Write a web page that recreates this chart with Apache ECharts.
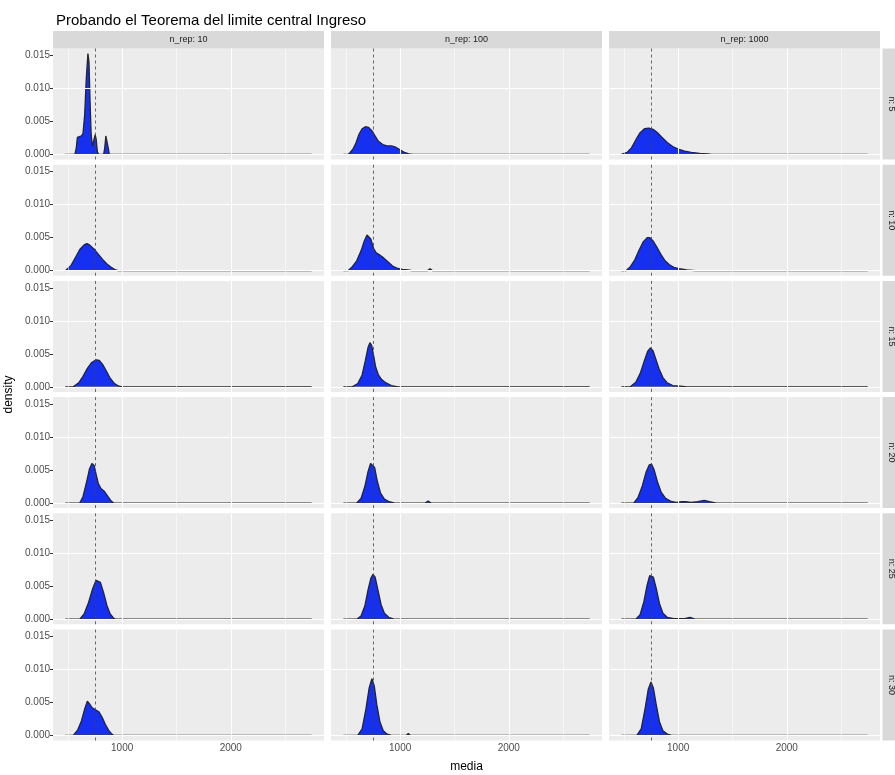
<!DOCTYPE html>
<html>
<head>
<meta charset="utf-8">
<script src="https://cdn.jsdelivr.net/npm/echarts@6/dist/echarts.min.js"></script>
<style>
html, body { margin: 0; padding: 0; background: #ffffff; }
#chart { width: 895px; height: 775px; }
</style>
</head>
<body>
<div id="chart"></div>
<script>
// Facet levels
const repLevels = [10, 100, 1000];
const nLevels = [5, 10, 15, 20, 25, 30];

// Observed range of the sample means (densities are evaluated over it)
const mediaRange = [477, 2745];
// Population mean of the income
const meanIngreso = 755;

const xTickValues = [1000, 2000];
const xMinorValues = [500, 1500, 2500];
const yTickValues = [0, 0.005, 0.010, 0.015];
const yMinorValues = [0.0025, 0.0075, 0.0125];

// Kernel density of the sample means, [media, density]
const dens_n5_rep10 = [[565,0],[578,0.0010],[588,0.0026],[605,0.0029],[625,0.0028],[640,0.0032],[655,0.0060],[670,0.0115],[685,0.0153],[695,0.0140],[705,0.0080],[715,0.0030],[727,0.0012],[740,0.0022],[752,0.0030],[762,0.0022],[772,0.0004],[785,0],[830,0],[840,0.0010],[850,0.0028],[862,0.0029],[872,0.0010],[882,0]];
const dens_n5_rep100 = [[520,0],[540,0.0003],[565,0.0008],[590,0.0016],[620,0.0030],[650,0.0039],[680,0.0042],[710,0.0041],[740,0.0036],[770,0.0028],[800,0.0020],[840,0.0015],[880,0.0013],[920,0.0013],[960,0.0011],[1000,0.0007],[1040,0.0003],[1080,0.0001],[1120,0]];
const dens_n5_rep1000 = [[490,0],[530,0.0003],[570,0.0010],[610,0.0022],[650,0.0033],[690,0.0039],[730,0.0040],[770,0.0038],[810,0.0033],[850,0.0026],[900,0.0018],[950,0.0012],[1000,0.0008],[1060,0.0005],[1120,0.0003],[1200,0.00015],[1300,0.00005],[1400,0]];

const dens_n10_rep10 = [[495,0],[530,0.0008],[570,0.0020],[610,0.0032],[650,0.0039],[675,0.0041],[700,0.0039],[740,0.0033],[780,0.0025],[820,0.0017],[860,0.0010],[900,0.0005],[940,0.0001],[965,0]];
const dens_n10_rep100 = [[520,0],[560,0.0006],[600,0.0015],[640,0.0030],[670,0.0045],[695,0.0054],[712,0.0055],[730,0.0048],[755,0.0034],[780,0.0027],[810,0.0024],[850,0.0019],[890,0.0013],[930,0.0007],[970,0.0004],[1020,0.0002],[1070,0.0001],[1110,0],[1250,0],[1275,0.0003],[1300,0]];
const dens_n10_rep1000 = [[520,0],[560,0.0006],[600,0.0016],[640,0.0031],[680,0.0044],[715,0.0050],[740,0.0050],[770,0.0045],[800,0.0037],[840,0.0025],[880,0.0015],[920,0.0009],[960,0.0005],[1010,0.0003],[1080,0.0001],[1160,0]];

const dens_n15_rep10 = [[550,0],[600,0.0006],[640,0.0016],[680,0.0028],[720,0.0037],[760,0.0041],[790,0.0040],[820,0.0034],[855,0.0024],[890,0.0013],[930,0.0005],[970,0.0001],[1000,0]];
const dens_n15_rep100 = [[560,0],[610,0.0005],[650,0.0018],[680,0.0040],[705,0.0060],[722,0.0067],[738,0.0063],[755,0.0048],[775,0.0030],[800,0.0018],[830,0.0011],[870,0.0006],[920,0.0002],[980,0]];
const dens_n15_rep1000 = [[560,0],[610,0.0007],[650,0.0020],[690,0.0040],[720,0.0054],[745,0.0059],[768,0.0055],[795,0.0042],[825,0.0027],[860,0.0014],[900,0.0006],[950,0.0002],[1020,0.0001],[1080,0]];

const dens_n20_rep10 = [[610,0],[640,0.0010],[670,0.0030],[700,0.0052],[722,0.0060],[742,0.0057],[760,0.0044],[780,0.0030],[805,0.0022],[835,0.0018],[865,0.0011],[895,0.0004],[920,0]];
const dens_n20_rep100 = [[600,0],[640,0.0007],[675,0.0025],[705,0.0048],[728,0.0060],[745,0.0062],[765,0.0054],[790,0.0033],[820,0.0015],[855,0.0006],[900,0.0002],[950,0],[1230,0],[1258,0.0003],[1285,0]];
const dens_n20_rep1000 = [[590,0],[630,0.0008],[670,0.0026],[705,0.0047],[735,0.0058],[755,0.0059],[780,0.0050],[810,0.0032],[845,0.0016],[885,0.0007],[930,0.0003],[980,0.0001],[1030,0.0002],[1070,0.0002],[1120,0.0001],[1180,0.0002],[1240,0.0004],[1290,0.0002],[1350,0]];

const dens_n25_rep10 = [[610,0],[650,0.0008],[690,0.0025],[730,0.0047],[760,0.0059],[778,0.0061],[800,0.0056],[830,0.0040],[860,0.0021],[890,0.0008],[920,0.0002],[940,0]];
const dens_n25_rep100 = [[600,0],[640,0.0005],[675,0.0020],[705,0.0045],[730,0.0062],[750,0.0068],[770,0.0064],[795,0.0045],[825,0.0022],[855,0.0009],[895,0.0003],[950,0]];
const dens_n25_rep1000 = [[610,0],[650,0.0007],[685,0.0027],[715,0.0052],[738,0.0066],[753,0.0069],[772,0.0064],[798,0.0047],[828,0.0024],[860,0.0009],[900,0.0003],[960,0.0001],[1060,0.0001],[1110,0.0003],[1160,0]];

const dens_n30_rep10 = [[550,0],[590,0.0008],[625,0.0022],[655,0.0040],[680,0.0052],[700,0.0048],[725,0.0042],[755,0.0039],[785,0.0036],[815,0.0028],[845,0.0017],[875,0.0008],[905,0.0002],[925,0]];
const dens_n30_rep100 = [[610,0],[650,0.0010],[685,0.0040],[715,0.0072],[740,0.0086],[762,0.0075],[785,0.0047],[815,0.0020],[845,0.0007],[880,0.0002],[920,0],[1055,0],[1075,0.0003],[1095,0]];
const dens_n30_rep1000 = [[620,0],[660,0.0010],[695,0.0040],[725,0.0070],[750,0.0081],[772,0.0072],[798,0.0047],[828,0.0021],[860,0.0007],[900,0.0002],[940,0]];

const densityRows = [
  [dens_n5_rep10, dens_n5_rep100, dens_n5_rep1000],
  [dens_n10_rep10, dens_n10_rep100, dens_n10_rep1000],
  [dens_n15_rep10, dens_n15_rep100, dens_n15_rep1000],
  [dens_n20_rep10, dens_n20_rep100, dens_n20_rep1000],
  [dens_n25_rep10, dens_n25_rep100, dens_n25_rep1000],
  [dens_n30_rep10, dens_n30_rep100, dens_n30_rep1000]
];

// ---- layout of the facet grid (pixels) ----
const FONT = 'Liberation Sans, Arial, sans-serif';
const panelLeft0 = 53, colPitch = 278, panelW = 271;
const panelTop0 = 48.5, rowPitch = 116.2, panelH = 111;
const stripH = 17.5, stripW = 17;

// Scales: 5% expansion on both sides, shared by all panels
const xSpan = mediaRange[1] - mediaRange[0];
const xMin = mediaRange[0] - 0.05 * xSpan;
const xMax = mediaRange[1] + 0.05 * xSpan;
let densMax = 0;
densityRows.forEach(r => r.forEach(d => d.forEach(p => { densMax = Math.max(densMax, p[1]); })));
const yMin = -0.05 * densMax;
const yMax = 1.05 * densMax;

const grids = [], xAxes = [], yAxes = [], series = [], graphics = [];

nLevels.forEach((n, r) => {
  repLevels.forEach((rep, c) => {
    const idx = grids.length;
    const left = panelLeft0 + c * colPitch;
    const top = panelTop0 + r * rowPitch;
    const isBottom = r === nLevels.length - 1;
    const isLeft = c === 0;

    grids.push({
      left: left, top: top, width: panelW, height: panelH,
      show: true, backgroundColor: '#ECECEC', borderWidth: 0
    });

    xAxes.push({
      type: 'value', gridIndex: idx, min: xMin, max: xMax,
      axisLine: { show: false },
      splitLine: { show: false },
      axisTick: { show: isBottom, customValues: xTickValues, length: 3, lineStyle: { color: '#333333', width: 1 } },
      axisLabel: {
        show: isBottom, customValues: xTickValues, margin: 3,
        fontSize: 10, color: '#4D4D4D', fontFamily: FONT,
        formatter: v => String(Math.round(v))
      }
    });

    yAxes.push({
      type: 'value', gridIndex: idx, min: yMin, max: yMax,
      axisLine: { show: false },
      splitLine: { show: false },
      axisTick: { show: isLeft, customValues: yTickValues, length: 3, lineStyle: { color: '#333333', width: 1 } },
      axisLabel: {
        show: isLeft, customValues: yTickValues, margin: 3,
        fontSize: 10, color: '#4D4D4D', fontFamily: FONT,
        formatter: v => v.toFixed(3)
      }
    });

    // panel grid lines (under the densities)
    const gridLines = [];
    xTickValues.forEach(v => gridLines.push({ xAxis: v, lineStyle: { color: '#FFFFFF', width: 1.1, type: 'solid' } }));
    xMinorValues.forEach(v => gridLines.push({ xAxis: v, lineStyle: { color: '#FFFFFF', width: 0.55, type: 'solid' } }));
    yTickValues.forEach(v => gridLines.push({ yAxis: v, lineStyle: { color: '#FFFFFF', width: 1.1, type: 'solid' } }));
    yMinorValues.forEach(v => gridLines.push({ yAxis: v, lineStyle: { color: '#FFFFFF', width: 0.55, type: 'solid' } }));
    series.push({
      type: 'line', xAxisIndex: idx, yAxisIndex: idx, data: [], z: 1,
      silent: true,
      markLine: { silent: true, symbol: ['none', 'none'], label: { show: false }, data: gridLines, animation: false }
    });

    // density curve, evaluated over the whole range of the means
    const d = densityRows[r][c];
    const pts = [[mediaRange[0], 0]].concat(d, [[mediaRange[1], 0]]);
    series.push({
      type: 'line', xAxisIndex: idx, yAxisIndex: idx, data: pts, z: 2,
      showSymbol: false, symbol: 'none', smooth: false, silent: true,
      lineStyle: { color: '#262626', width: 1.3 },
      areaStyle: { color: '#1530F0', opacity: 1 },
      markLine: {
        silent: true, symbol: ['none', 'none'], label: { show: false }, animation: false,
        lineStyle: { color: '#444444', width: 0.8, type: [3, 3] },
        data: [{ xAxis: meanIngreso }]
      }
    });

    // column strip on top
    if (r === 0) {
      graphics.push({
        type: 'rect', shape: { x: left, y: panelTop0 - stripH, width: panelW, height: stripH },
        style: { fill: '#D9D9D9' }, silent: true
      });
      graphics.push({
        type: 'text', x: left + panelW / 2, y: panelTop0 - stripH / 2,
        style: { text: 'n_rep: ' + rep, fill: '#1A1A1A', font: '9px ' + FONT, align: 'center', verticalAlign: 'middle' },
        silent: true
      });
    }
    // row strip on the right
    if (c === repLevels.length - 1) {
      const sx = left + panelW + 2.5;
      graphics.push({
        type: 'rect', shape: { x: sx, y: top, width: stripW, height: panelH },
        style: { fill: '#D9D9D9' }, silent: true
      });
      graphics.push({
        type: 'text', x: sx + stripW / 2, y: top + panelH / 2, rotation: -Math.PI / 2,
        style: { text: 'n: ' + n, fill: '#1A1A1A', font: '9px ' + FONT, align: 'center', verticalAlign: 'middle' },
        silent: true
      });
    }
  });
});

const plotBottom = panelTop0 + (nLevels.length - 1) * rowPitch + panelH;
const plotCenterX = panelLeft0 + (colPitch * (repLevels.length - 1) + panelW) / 2;

graphics.push({
  type: 'text', x: plotCenterX, y: plotBottom + 26,
  style: { text: 'media', fill: '#000000', font: '12px ' + FONT, align: 'center', verticalAlign: 'middle' },
  silent: true
});
graphics.push({
  type: 'text', x: 9, y: (panelTop0 + plotBottom) / 2, rotation: Math.PI / 2,
  style: { text: 'density', fill: '#000000', font: '12px ' + FONT, align: 'center', verticalAlign: 'middle' },
  silent: true
});

const chart = echarts.init(document.getElementById('chart'), null, { renderer: 'canvas' });
chart.setOption({
  animation: false,
  backgroundColor: '#FFFFFF',
  title: {
    text: 'Probando el Teorema del limite central Ingreso',
    left: 51, top: 8,
    textStyle: { fontSize: 15, fontWeight: 'normal', color: '#000000', fontFamily: FONT }
  },
  grid: grids,
  xAxis: xAxes,
  yAxis: yAxes,
  series: series,
  graphic: graphics
});
</script>
</body>
</html>
